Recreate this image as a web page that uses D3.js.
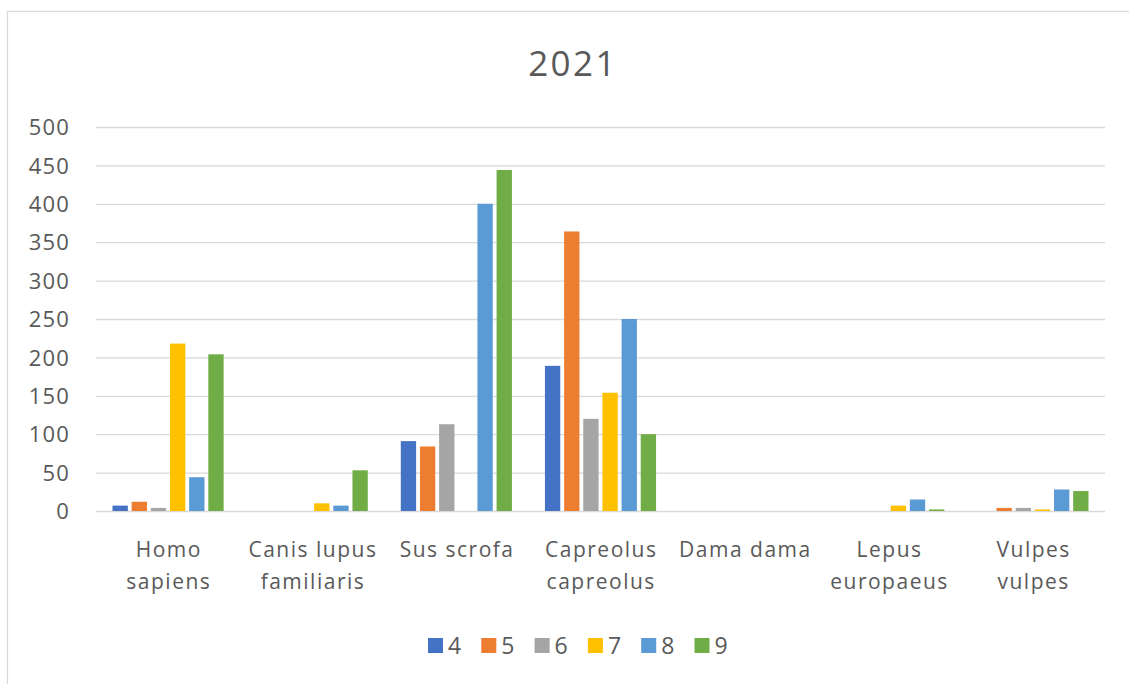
<!DOCTYPE html>
<html><head><meta charset="utf-8">
<script src="https://cdn.jsdelivr.net/npm/d3@7"></script>
<style>body{margin:0;background:#fff}svg{display:block}text{font-family:"Open Sans",sans-serif;fill:#595959}</style>
</head><body>
<svg id="c" width="1129" height="684"></svg>
<script>
const title = "2021";
const categories = [["Homo","sapiens"],["Canis lupus","familiaris"],["Sus scrofa"],["Capreolus","capreolus"],["Dama dama"],["Lepus","europaeus"],["Vulpes","vulpes"]];
const seriesNames = ["4","5","6","7","8","9"];
const colors = ["#4472C4","#ED7D31","#A5A5A5","#FFC000","#5B9BD5","#70AD47"];
const s4 = [7, 0, 91, 189, 0, 0, 0];
const s5 = [12, 0, 84, 364, 0, 0, 4];
const s6 = [4, 0, 113, 120, 0, 0, 4];
const s7 = [218, 10, 0, 154, 0, 7, 2];
const s8 = [44, 7, 400, 250, 0, 15, 28];
const s9 = [204, 53, 444, 100, 0, 2, 26];
const series = [s4,s5,s6,s7,s8,s9];
const yTicks = [0,50,100,150,200,250,300,350,400,450,500];

const svg = d3.select("#c");
svg.append("rect").attr("x",7.5).attr("y",11.5).attr("width",1140).attr("height",700)
  .attr("fill","none").attr("stroke","#D9D9D9").attr("stroke-width",1.3);

const L=96, R=1105, T=127, B=511;
const y = d3.scaleLinear().domain([0,500]).range([B,T]);
const catKeys = categories.map((c,i)=>i);
const x0 = d3.scaleBand().domain(catKeys).range([L,R]).paddingInner(0.229).paddingOuter(0.1145);
const x1 = d3.scaleBand().domain(d3.range(seriesNames.length)).range([0,x0.bandwidth()]).paddingInner(0.2);

const ga = svg.append("g").attr("transform",`translate(${L},0)`)
  .call(d3.axisLeft(y).tickValues(yTicks).tickSize(-(R-L)).tickFormat(""));
ga.select(".domain").remove();
ga.selectAll("line").attr("stroke","#D9D9D9").attr("stroke-width",1.3);

const yl = svg.append("g").attr("transform",`translate(70,0)`)
  .call(d3.axisLeft(y).tickValues(yTicks).tickSize(0).tickPadding(0));
yl.select(".domain").remove();
yl.selectAll("text").attr("font-size","22px").attr("fill","#595959").attr("dy","0.35em")
  .style("letter-spacing","1.2px").style("font-family",'"Open Sans",sans-serif');

const g = svg.append("g");
series.forEach((vals,si)=>{
  g.selectAll(null).data(vals).enter().append("rect")
   .attr("x",(d,i)=>x0(i)+x1(si))
   .attr("width",x1.bandwidth())
   .attr("y",d=>y(d))
   .attr("height",d=>B-y(d))
   .attr("fill",colors[si]);
});

categories.forEach((lines,i)=>{
  const cx = x0(i)+x0.bandwidth()/2 + 0.75;
  const t = svg.append("text").attr("x",cx).attr("y",557).attr("text-anchor","middle")
    .attr("font-size","21px").style("letter-spacing","1.5px");
  lines.forEach((ln,k)=>t.append("tspan").attr("x",cx).attr("dy",k?32:0).text(ln));
});

svg.append("text").attr("x",573).attr("y",76).attr("text-anchor","middle").attr("font-size","35px")
  .style("letter-spacing","2.4px").text(title);

const lg = svg.append("g");
seriesNames.forEach((n,i)=>{
  const lx = 428 + i*53.3;
  lg.append("rect").attr("x",lx).attr("y",638).attr("width",15).attr("height",15).attr("fill",colors[i]);
  lg.append("text").attr("x",lx+20).attr("y",654).attr("font-size","23px").text(n);
});
</script>
</body></html>
